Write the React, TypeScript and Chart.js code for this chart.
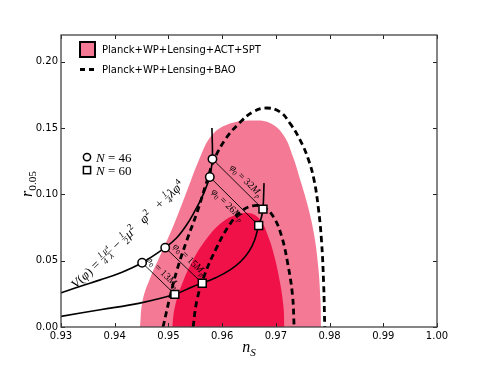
import React, { useEffect, useRef } from "react";
import { Chart, registerables } from "chart.js";

Chart.register(...registerables);

// ---------- data ----------
const xTicks = [0.93, 0.94, 0.95, 0.96, 0.97, 0.98, 0.99, 1.0];
const yTicks = [0.0, 0.05, 0.1, 0.15, 0.2];

// Planck+WP+Lensing+ACT+SPT, 95% region
const act2X = [0.9447, 0.9452, 0.9466, 0.9486, 0.951, 0.9535, 0.9558, 0.958, 0.961, 0.9655, 0.969, 0.9715, 0.9732, 0.9746, 0.9759, 0.9771, 0.9779, 0.9783, 0.9784];
const act2Y = [0.0, 0.02, 0.037, 0.055, 0.077, 0.103, 0.127, 0.144, 0.1525, 0.1555, 0.1535, 0.144, 0.128, 0.11, 0.092, 0.07, 0.045, 0.02, 0.0];
// Planck+WP+Lensing+ACT+SPT, 68% region
const act1X = [0.9507, 0.9512, 0.9525, 0.9545, 0.957, 0.96, 0.963, 0.9655, 0.9672, 0.9686, 0.9698, 0.9708, 0.9714, 0.9716];
const act1Y = [0.0, 0.015, 0.032, 0.05, 0.066, 0.079, 0.085, 0.0855, 0.08, 0.068, 0.052, 0.033, 0.016, 0.0];
// Planck+WP+Lensing+BAO, 95% contour
const bao2X = [0.949, 0.9503, 0.9516, 0.9534, 0.9553, 0.9571, 0.9585, 0.9607, 0.9633, 0.9657, 0.9683, 0.9708, 0.9727, 0.9745, 0.976, 0.9771, 0.9779, 0.9785, 0.9789, 0.9791];
const bao2Y = [0.0, 0.023, 0.043, 0.065, 0.086, 0.109, 0.126, 0.142, 0.154, 0.162, 0.165, 0.162, 0.153, 0.141, 0.127, 0.111, 0.09, 0.065, 0.032, 0.0];
// Planck+WP+Lensing+BAO, 68% contour
const bao1X = [0.9546, 0.9553, 0.9568, 0.959, 0.9612, 0.9635, 0.966, 0.968, 0.9697, 0.9711, 0.9722, 0.9731, 0.9734];
const bao1Y = [0.0, 0.02, 0.04, 0.06, 0.076, 0.087, 0.0915, 0.0895, 0.082, 0.068, 0.048, 0.024, 0.0];

// model predictions
const n46X = [0.93, 0.9335, 0.9373, 0.941, 0.9451, 0.9494, 0.9515, 0.9534, 0.955, 0.9561, 0.957, 0.9577, 0.958, 0.9582, 0.9581];
const n46Y = [0.0257, 0.0306, 0.0355, 0.0407, 0.0484, 0.0598, 0.067, 0.077, 0.088, 0.0965, 0.105, 0.113, 0.12, 0.1265, 0.15];
const n60X = [0.93, 0.9373, 0.9447, 0.9512, 0.9546, 0.9563, 0.959, 0.9615, 0.9635, 0.965, 0.966, 0.9668, 0.9673, 0.9676, 0.9678];
const n60Y = [0.008, 0.013, 0.018, 0.0246, 0.0306, 0.033, 0.0375, 0.043, 0.0495, 0.057, 0.065, 0.0765, 0.0825, 0.0888, 0.1084];

// marked points (phi0 = 13, 15, 26, 32 Mp)
const phi0Labels = ["13", "15", "26", "32"];
const circX = [0.9451, 0.9494, 0.9577, 0.9582];
const circY = [0.0484, 0.0598, 0.113, 0.1265];
const sqX = [0.9512, 0.9563, 0.9668, 0.9676];
const sqY = [0.0246, 0.033, 0.0765, 0.0888];
// label placement along each connector: fraction and side offset (px)
const phiLabelT = [0.47, 0.5, 0.47, 0.55];
const phiLabelOff = [-4.5, -5.5, 10, -5.5];

const legendLabels = ["Planck+WP+Lensing+ACT+SPT", "Planck+WP+Lensing+BAO"];
const nLabels = ["46", "60"];

// potential label anchor (data units)
const potAnchor = { x: 0.9328, y: 0.0285 };

const LIGHT = "rgb(244,121,149)";
const DARK = "rgb(240,17,73)";
const SERIF = "'Liberation Serif', 'DejaVu Serif', serif";
const SANS = "'DejaVu Sans', sans-serif";

const pts = (xs: number[], ys: number[]) => xs.map((x, i) => ({ x, y: ys[i] }));

type Seg = { t?: string; it?: boolean; sub?: boolean; sup?: boolean; num?: string; den?: string };

function segWidth(ctx: CanvasRenderingContext2D, s: Seg, size: number) {
  if (s.num !== undefined) {
    ctx.font = `italic ${size * 0.66}px ${SERIF}`;
    return Math.max(ctx.measureText(s.num).width, ctx.measureText(s.den || "").width) + 2;
  }
  const fs = s.sub || s.sup ? size * 0.7 : size;
  ctx.font = `${s.it ? "italic " : ""}${fs}px ${SERIF}`;
  return ctx.measureText(s.t || "").width;
}

function drawRich(
  ctx: CanvasRenderingContext2D,
  segs: Seg[],
  x: number,
  y: number,
  angle: number,
  size: number,
  align: "left" | "center"
) {
  ctx.save();
  ctx.translate(x, y);
  ctx.rotate(angle);
  ctx.fillStyle = "#000";
  ctx.strokeStyle = "#000";
  ctx.textBaseline = "alphabetic";
  ctx.textAlign = "left";
  const total = segs.reduce((a, s) => a + segWidth(ctx, s, size), 0);
  let cx = align === "center" ? -total / 2 : 0;
  for (const s of segs) {
    const w = segWidth(ctx, s, size);
    if (s.num !== undefined) {
      const fs = size * 0.66;
      ctx.font = `italic ${fs}px ${SERIF}`;
      const nw = ctx.measureText(s.num).width;
      const dw = ctx.measureText(s.den || "").width;
      ctx.fillText(s.num, cx + (w - nw) / 2, -size * 0.42);
      ctx.fillText(s.den || "", cx + (w - dw) / 2, size * 0.22);
      ctx.lineWidth = 0.6;
      ctx.beginPath();
      ctx.moveTo(cx + 0.5, -size * 0.3);
      ctx.lineTo(cx + w - 0.5, -size * 0.3);
      ctx.stroke();
    } else {
      const fs = s.sub || s.sup ? size * 0.7 : size;
      ctx.font = `${s.it ? "italic " : ""}${fs}px ${SERIF}`;
      const dy = s.sub ? size * 0.22 : s.sup ? -size * 0.38 : 0;
      ctx.fillText(s.t || "", cx, dy);
    }
    cx += w;
  }
  ctx.restore();
}

const decoPlugin = {
  id: "deco",
  afterDatasetsDraw(chart: any) {
    const ctx: CanvasRenderingContext2D = chart.ctx;
    const xs = chart.scales.x;
    const ys = chart.scales.y;
    // phi0 labels along connectors
    for (let i = 0; i < circX.length; i++) {
      const x0 = xs.getPixelForValue(circX[i]);
      const y0 = ys.getPixelForValue(circY[i]);
      const x1 = xs.getPixelForValue(sqX[i]);
      const y1 = ys.getPixelForValue(sqY[i]);
      const ang = Math.atan2(y1 - y0, x1 - x0);
      const t = phiLabelT[i];
      const mx = x0 + (x1 - x0) * t;
      const my = y0 + (y1 - y0) * t;
      const off = phiLabelOff[i];
      const px = mx - Math.sin(ang) * off;
      const py = my + Math.cos(ang) * off;
      drawRich(
        ctx,
        [
          { t: "φ", it: true },
          { t: "0", sub: true },
          { t: " = " + phi0Labels[i] },
          { t: "M", it: true },
          { t: "p", it: true, sub: true },
        ],
        px,
        py,
        ang,
        10,
        "center"
      );
    }
    // potential label
    const ax = xs.getPixelForValue(potAnchor.x);
    const ay = ys.getPixelForValue(potAnchor.y);
    drawRich(
      ctx,
      [
        { t: "V", it: true },
        { t: "(" },
        { t: "φ", it: true },
        { t: ") = " },
        { num: "1", den: "4" },
        { num: "μ⁴", den: "λ" },
        { t: " − " },
        { num: "1", den: "2" },
        { t: "μ", it: true },
        { t: "2", sup: true },
        { t: "   " },
        { t: "φ", it: true },
        { t: "2", sup: true },
        { t: "   + " },
        { num: "1", den: "4" },
        { t: "λφ", it: true },
        { t: "4", sup: true },
      ],
      ax,
      ay,
      -0.76,
      13,
      "left"
    );
  },
  afterDraw(chart: any) {
    const ctx: CanvasRenderingContext2D = chart.ctx;
    const a = chart.chartArea;
    const xs = chart.scales.x;
    const ys = chart.scales.y;
    ctx.save();
    // inward ticks on all sides
    ctx.strokeStyle = "#222";
    ctx.lineWidth = 1;
    ctx.beginPath();
    for (const v of xTicks) {
      const px = Math.round(xs.getPixelForValue(v)) + 0.5;
      ctx.moveTo(px, a.bottom);
      ctx.lineTo(px, a.bottom - 4);
      ctx.moveTo(px, a.top);
      ctx.lineTo(px, a.top + 4);
    }
    for (const v of yTicks) {
      const py = Math.round(ys.getPixelForValue(v)) + 0.5;
      ctx.moveTo(a.left, py);
      ctx.lineTo(a.left + 4, py);
      ctx.moveTo(a.right, py);
      ctx.lineTo(a.right - 4, py);
    }
    ctx.stroke();
    // frame
    ctx.strokeStyle = "#444";
    ctx.lineWidth = 1.3;
    ctx.strokeRect(a.left, a.top, a.right - a.left, a.bottom - a.top);

    // legend
    const lx = a.left + 19;
    ctx.fillStyle = LIGHT;
    ctx.strokeStyle = "#000";
    ctx.lineWidth = 2;
    ctx.fillRect(lx, a.top + 7, 15, 15);
    ctx.strokeRect(lx, a.top + 7, 15, 15);
    ctx.fillStyle = "#000";
    ctx.font = `10px ${SANS}`;
    ctx.textBaseline = "middle";
    ctx.textAlign = "left";
    ctx.fillText(legendLabels[0], lx + 22, a.top + 15);
    ctx.lineWidth = 2.8;
    ctx.setLineDash([5, 4]);
    ctx.beginPath();
    ctx.moveTo(lx, a.top + 34.5);
    ctx.lineTo(lx + 15, a.top + 34.5);
    ctx.stroke();
    ctx.setLineDash([]);
    ctx.fillText(legendLabels[1], lx + 22, a.top + 35);

    // N legend
    const mx = a.left + 26;
    const my0 = ys.getPixelForValue(0.128);
    const my1 = my0 + 13;
    ctx.lineWidth = 1.5;
    ctx.fillStyle = "#fff";
    ctx.beginPath();
    ctx.arc(mx, my0, 3.6, 0, Math.PI * 2);
    ctx.fill();
    ctx.stroke();
    ctx.fillRect(mx - 3.6, my1 - 3.6, 7.2, 7.2);
    ctx.strokeRect(mx - 3.6, my1 - 3.6, 7.2, 7.2);
    drawRich(ctx, [{ t: "N", it: true }, { t: " = " + nLabels[0] }], mx + 9, my0 + 4.5, 0, 13, "left");
    drawRich(ctx, [{ t: "N", it: true }, { t: " = " + nLabels[1] }], mx + 9, my1 + 4.5, 0, 13, "left");

    // axis titles
    const cxm = (a.left + a.right) / 2;
    drawRich(ctx, [{ t: "n", it: true }, { t: "S", it: true, sub: true }], cxm, 352, 0, 16, "center");
    drawRich(ctx, [{ t: "r", it: true }, { t: "0.05", sub: true }], 32, (a.top + a.bottom) / 2 + 3, -Math.PI / 2, 16, "center");
    ctx.restore();
  },
};

export default function App() {
  const ref = useRef<HTMLCanvasElement | null>(null);
  useEffect(() => {
    document.body.style.margin = "0";
    const canvas = ref.current;
    if (!canvas) return;
    const base = { pointRadius: 0, pointHoverRadius: 0, fill: false as any };
    const connectors = circX.map((_, i) => ({
      ...base,
      data: pts([circX[i], sqX[i]], [circY[i], sqY[i]]),
      borderColor: "#000",
      borderWidth: 0.9,
      tension: 0,
      order: 7,
    }));
    const chart = new Chart(canvas, {
      type: "line",
      data: {
        datasets: [
          {
            ...base,
            data: pts(act2X, act2Y),
            fill: "origin",
            backgroundColor: LIGHT,
            borderColor: "rgba(0,0,0,0)",
            borderWidth: 0,
            tension: 0.4,
            order: 20,
          },
          {
            ...base,
            data: pts(act1X, act1Y),
            fill: "origin",
            backgroundColor: DARK,
            borderColor: "rgba(0,0,0,0)",
            borderWidth: 0,
            tension: 0.4,
            order: 19,
          },
          {
            ...base,
            data: pts(bao2X, bao2Y),
            borderColor: "#000",
            borderWidth: 2.8,
            borderDash: [6, 4],
            tension: 0.4,
            order: 10,
          },
          {
            ...base,
            data: pts(bao1X, bao1Y),
            borderColor: "#000",
            borderWidth: 2.8,
            borderDash: [6, 4],
            tension: 0.4,
            order: 9,
          },
          ...connectors,
          {
            ...base,
            data: pts(n46X, n46Y),
            borderColor: "#000",
            borderWidth: 1.6,
            tension: 0.4,
            order: 5,
          },
          {
            ...base,
            data: pts(n60X, n60Y),
            borderColor: "#000",
            borderWidth: 1.6,
            tension: 0.4,
            order: 4,
          },
          {
            data: pts(circX, circY),
            showLine: false,
            pointStyle: "circle",
            pointRadius: 4.2,
            pointBackgroundColor: "#fff",
            pointBorderColor: "#000",
            pointBorderWidth: 1.5,
            order: 1,
          },
          {
            data: pts(sqX, sqY),
            showLine: false,
            pointStyle: "rect",
            pointRadius: 5.6,
            pointBackgroundColor: "#fff",
            pointBorderColor: "#000",
            pointBorderWidth: 1.5,
            order: 0,
          },
        ] as any,
      },
      options: {
        responsive: false,
        animation: false,
        devicePixelRatio: 1,
        events: [],
        layout: { padding: { left: 0, top: 35, right: 48, bottom: 0 } },
        plugins: { legend: { display: false }, tooltip: { enabled: false } },
        scales: {
          x: {
            type: "linear",
            min: 0.93,
            max: 1.0,
            afterBuildTicks: (s: any) => {
              s.ticks = xTicks.map((v) => ({ value: v }));
            },
            afterFit: (s: any) => {
              s.height = 38;
            },
            ticks: {
              callback: (v: any) => Number(v).toFixed(2),
              font: { family: "DejaVu Sans", size: 10 },
              color: "#000",
              padding: 3,
              maxRotation: 0,
              autoSkip: false,
            },
            grid: { display: false, drawTicks: false },
            border: { display: false },
          },
          y: {
            type: "linear",
            min: 0,
            max: 0.22,
            afterBuildTicks: (s: any) => {
              s.ticks = yTicks.map((v) => ({ value: v }));
            },
            afterFit: (s: any) => {
              s.width = 61;
            },
            ticks: {
              callback: (v: any) => Number(v).toFixed(2),
              font: { family: "DejaVu Sans", size: 10 },
              color: "#000",
              padding: 3,
              autoSkip: false,
            },
            grid: { display: false, drawTicks: false },
            border: { display: false },
          },
        },
      } as any,
      plugins: [decoPlugin],
    });
    return () => chart.destroy();
  }, []);
  return (
    <div style={{ width: 485, height: 365 }}>
      <canvas ref={ref} width={485} height={365} style={{ display: "block" }} />
    </div>
  );
}
